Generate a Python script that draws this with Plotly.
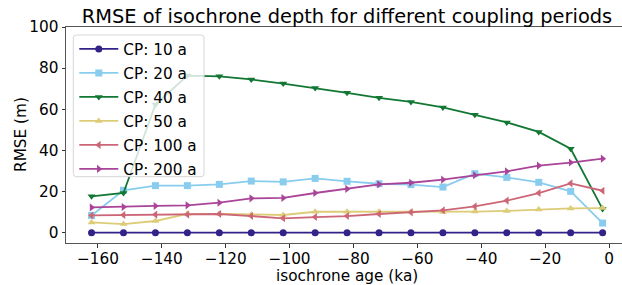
import plotly.graph_objects as go

ages = [-162, -152, -142, -132, -122, -112, -102, -92, -82, -72, -62, -52, -42, -32, -22, -12, -2]

cp10 = [0.0] * 17
cp20 = [8.4, 20.6, 22.9, 22.9, 23.5, 25.1, 24.7, 26.4, 25.0, 23.8, 23.4, 22.2, 28.7, 26.9, 24.5, 20.1, 4.7]
cp40 = [17.7, 19.3, 62.3, 76.4, 76.0, 74.5, 72.5, 70.4, 68.0, 65.6, 63.6, 60.9, 57.4, 53.6, 49.0, 40.8, 11.5]
cp50 = [5.0, 4.2, 5.7, 9.2, 9.2, 8.8, 8.6, 10.2, 10.2, 10.2, 10.2, 10.1, 10.3, 10.6, 11.3, 11.8, 12.0]
cp100 = [8.4, 8.6, 8.8, 8.8, 9.1, 8.1, 7.0, 7.6, 8.1, 9.1, 9.9, 10.9, 12.8, 15.6, 19.3, 24.0, 20.4]
cp200 = [12.3, 12.5, 13.0, 13.3, 14.6, 16.7, 16.9, 19.3, 21.3, 23.5, 24.3, 25.8, 27.9, 29.8, 32.6, 34.1, 36.0]

names = ["CP: 10 a", "CP: 20 a", "CP: 40 a", "CP: 50 a", "CP: 100 a", "CP: 200 a"]
series = [cp10, cp20, cp40, cp50, cp100, cp200]
colors = ["#332288", "#88CCEE", "#117733", "#DDCC77", "#CC6677", "#AA4499"]
symbols = ["circle", "square", "triangle-down", "triangle-up", "triangle-left", "triangle-right"]

FONT = "DejaVu Sans"
L, R, T, B = 66, 0, 27, 42
W, H = 622, 285
PW = W - L - R
PH = H - T - B


def px_x(p):
    return (p - L) / PW


def px_y(p):
    return (H - B - p) / PH


def rounded_box(x0, y0, x1, y1, r):
    # pixel coordinates -> paper-coordinate SVG path with rounded corners
    rx, ry = r / PW, r / PH
    X0, X1 = px_x(x0), px_x(x1)
    Y0, Y1 = px_y(y0), px_y(y1)  # Y0 top (larger), Y1 bottom
    return (f"M {X0 + rx},{Y0} L {X1 - rx},{Y0} Q {X1},{Y0} {X1},{Y0 - ry} "
            f"L {X1},{Y1 + ry} Q {X1},{Y1} {X1 - rx},{Y1} "
            f"L {X0 + rx},{Y1} Q {X0},{Y1} {X0},{Y1 + ry} "
            f"L {X0},{Y0 - ry} Q {X0},{Y0} {X0 + rx},{Y0} Z")


fig = go.Figure()
for i, (n, s, c, m) in enumerate(zip(names, series, colors, symbols)):
    fig.add_trace(go.Scatter(
        x=ages, y=s, name=n, mode="lines+markers",
        line=dict(color=c, width=1.8),
        marker=dict(symbol=m, size=7, color=c),
        legendgroup=f"g{i}",
    ))

fig.update_layout(
    width=W, height=H,
    margin=dict(l=L, r=R, t=T, b=B, pad=0),
    plot_bgcolor="white", paper_bgcolor="white",
    font=dict(family=FONT, size=15.3, color="black"),
    title=dict(text="RMSE of isochrone depth for different coupling periods",
               font=dict(family=FONT, size=19.4, color="black"),
               x=347 / W, xref="container", xanchor="center",
               y=1 - 16 / H, yref="container", yanchor="middle",
               pad=dict(t=0, b=0, l=0, r=0)),
    legend=dict(x=px_x(74.3), y=px_y(32.5), xanchor="left", yanchor="top",
                bgcolor="rgba(0,0,0,0)", borderwidth=0, itemwidth=39,
                font=dict(family=FONT, size=15.3, color="black"),
                traceorder="grouped", tracegroupgap=1.1),
    showlegend=True,
    shapes=[dict(type="path", xref="paper", yref="paper", layer="above",
                 path=rounded_box(73.3, 35, 204, 176.7, 3),
                 fillcolor="rgba(255,255,255,0.8)",
                 line=dict(color="#d6d6d6", width=1))],
    annotations=[
        dict(text="isochrone age (ka)", xref="paper", yref="paper",
             x=px_x(347), y=px_y(276),
             xanchor="center", yanchor="middle", showarrow=False,
             font=dict(family=FONT, size=15.3, color="black")),
        dict(text="RMSE (m)", xref="paper", yref="paper",
             x=px_x(21), y=0.5, textangle=-90,
             xanchor="center", yanchor="middle", showarrow=False,
             font=dict(family=FONT, size=15.3, color="black")),
    ],
)
fig.update_xaxes(
    range=[-170, 4.07], tickvals=[-160, -140, -120, -100, -80, -60, -40, -20, 0],
    ticks="outside", ticklen=3.5, tickcolor="#333", showgrid=False, zeroline=False,
    showline=True, linecolor="#555", linewidth=1, mirror=True, automargin=False,
    tickfont=dict(size=15.3), ticklabelstandoff=-2,
)
fig.update_yaxes(
    range=[-5, 100], tickvals=[0, 20, 40, 60, 80, 100],
    ticks="outside", ticklen=3.5, tickcolor="#333", showgrid=False, zeroline=False,
    showline=True, linecolor="#555", linewidth=1, mirror=False, automargin=False,
    tickfont=dict(size=15.3),
)

fig.write_html("out.html", config={"displayModeBar": False},
               post_script="document.body.style.margin='0';document.body.style.overflow='hidden';")
